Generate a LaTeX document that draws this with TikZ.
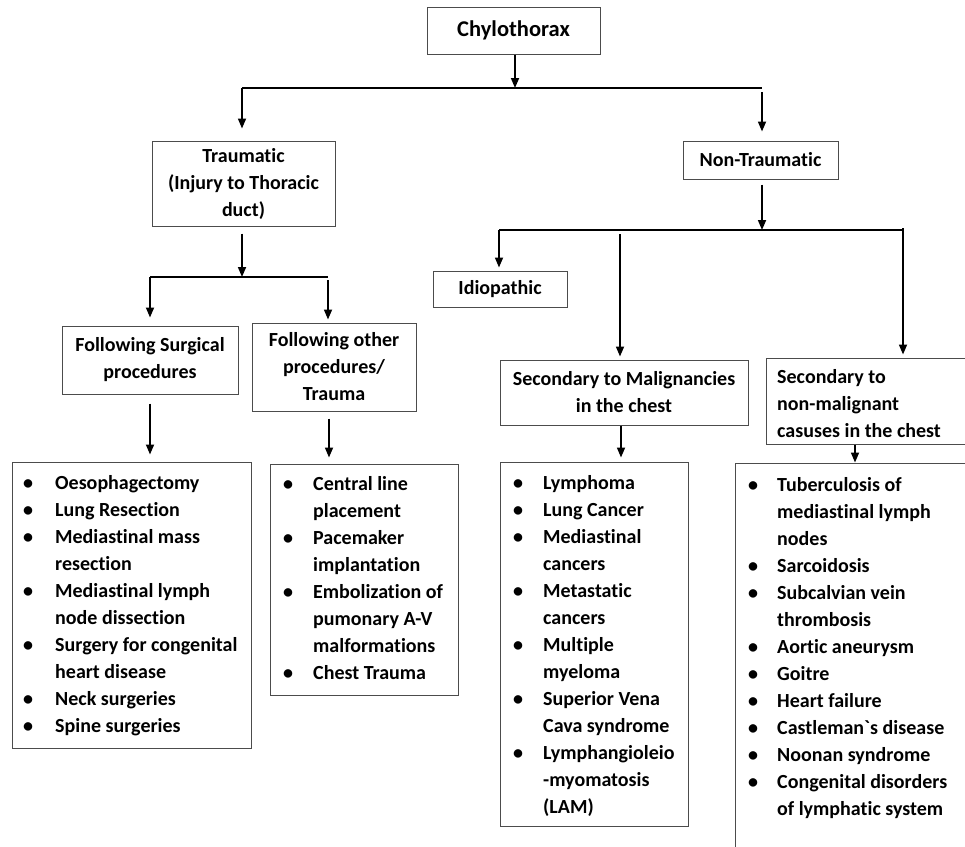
\documentclass[tikz,border=0pt]{standalone}
\usepackage{fontspec}
\newfontfamily\cf{Carlito}[Ligatures=NoCommon]
\usetikzlibrary{arrows.meta}
\begin{document}
\begin{tikzpicture}[x=1pt,y=-1pt,
  every node/.style={font=\cf\fontsize{20}{27}\selectfont\bfseries, text=black},
  hbox/.style={draw=black!70, line width=1pt, rectangle, inner sep=0pt, align=center},
  lbox/.style={draw=black!70, line width=1pt, rectangle, inner sep=0pt},
  conn/.style={line width=1.7pt, black},
  arr/.style={conn, -{Triangle[length=10pt,width=8pt]}},
  ltxt/.style={anchor=base west, inner sep=0pt}
]
\useasboundingbox (0,0) rectangle (965,846);
\clip (0,0) rectangle (965,846);
\fill[white] (0,0) rectangle (965,846);

% header boxes
\node[hbox, minimum width=173pt, minimum height=47pt, font=\cf\fontsize{22.5}{27}\selectfont\bfseries] (chylo) at (513.5,30.5) {Chylothorax};
\node[hbox, minimum width=183pt, minimum height=85pt] (trau) at (243.5,183.5) {Traumatic\\(Injury to Thoracic\\duct)};
\node[hbox, minimum width=155pt, minimum height=38pt] (nt) at (760.5,160) {Non-Traumatic};
\node[hbox, minimum width=176pt, minimum height=68pt] (surg) at (150,360) {Following Surgical\\procedures};
\node[hbox, minimum width=164pt, minimum height=88pt] (oth) at (334,367) {Following other\\procedures/\\Trauma};
\node[hbox, minimum width=134pt, minimum height=36pt] (idio) at (500,289) {Idiopathic};
\node[hbox, minimum width=248pt, minimum height=65pt] (mal) at (624,392.5) {Secondary to Malignancies\\in the chest};
\node[hbox, minimum width=209pt, minimum height=86pt] (nmal) at (870.5,401) {};
\node[inner sep=0pt, align=left, anchor=west] (nmalt) at (777,404) {Secondary to\\non-malignant\\casuses in the chest};

% list boxes
\node[lbox, minimum width=239pt, minimum height=286pt] (l1) at (131.5,605) {};
\node[lbox, minimum width=188pt, minimum height=231pt] (l2) at (364,579.5) {};
\node[lbox, minimum width=188pt, minimum height=364pt] (l3) at (594,644) {};
\node[lbox, minimum width=240pt, minimum height=407pt] (l4) at (855,666.5) {};

\node[ltxt] (t1) at (23,489) {\begin{tabular}[t]{@{}p{32pt}@{}l@{}}
\textbullet & Oesophagectomy\\
\textbullet & Lung Resection\\
\textbullet & Mediastinal mass\\
 & resection\\
\textbullet & Mediastinal lymph\\
 & node dissection\\
\textbullet & Surgery for congenital\\
 & heart disease\\
\textbullet & Neck surgeries\\
\textbullet & Spine surgeries
\end{tabular}};

\node[ltxt] (t2) at (283,490) {\begin{tabular}[t]{@{}p{30pt}@{}l@{}}
\textbullet & Central line\\
 & placement\\
\textbullet & Pacemaker\\
 & implantation\\
\textbullet & Embolization of\\
 & pumonary A-V\\
 & malformations\\
\textbullet & Chest Trauma
\end{tabular}};

\node[ltxt] (t3) at (513,489) {\begin{tabular}[t]{@{}p{30pt}@{}l@{}}
\textbullet & Lymphoma\\
\textbullet & Lung Cancer\\
\textbullet & Mediastinal\\
 & cancers\\
\textbullet & Metastatic\\
 & cancers\\
\textbullet & Multiple\\
 & myeloma\\
\textbullet & Superior Vena\\
 & Cava syndrome\\
\textbullet & Lymphangioleio\\
 & -myomatosis\\
 & (LAM)
\end{tabular}};

\node[ltxt] (t4) at (748,491) {\begin{tabular}[t]{@{}p{29pt}@{}l@{}}
\textbullet & Tuberculosis of\\
 & mediastinal lymph\\
 & nodes\\
\textbullet & Sarcoidosis\\
\textbullet & Subcalvian vein\\
 & thrombosis\\
\textbullet & Aortic aneurysm\\
\textbullet & Goitre\\
\textbullet & Heart failure\\
\textbullet & Castleman`s disease\\
\textbullet & Noonan syndrome\\
\textbullet & Congenital disorders\\
 & of lymphatic system
\end{tabular}};

% junction coordinates
\coordinate (j1) at (515,88);
\coordinate (b1l) at (242,88);
\coordinate (b1r) at (762,88);
\coordinate (j2) at (242,277);
\coordinate (b2l) at (150,277);
\coordinate (b2r) at (328,277);
\coordinate (j3) at (762,230);
\coordinate (b3l) at (499,230);
\coordinate (b3m) at (620,230);
\coordinate (b3r) at (903,230);
\coordinate (x2) at (329,0);
\coordinate (x3) at (621,0);
\coordinate (x4) at (855,0);

% connectors
\draw[arr] (chylo.south -| j1) -- (j1);
\draw[conn] (b1l) -- (b1r);
\draw[arr] (b1l) -- ([yshift=12pt]b1l |- trau.north);
\draw[arr] ([yshift=-4pt]b1r) -- ([yshift=9pt]b1r |- nt.north);

\draw[arr] ([yshift=-7pt]trau.south -| j2) -- (j2);
\draw[conn] (b2l) -- (b2r);
\draw[arr] (b2l) -- ([yshift=8pt]b2l |- surg.north);
\draw[arr] ([yshift=-3pt]b2r) -- ([yshift=3pt]b2r |- oth.north);
\draw[arr] ([yshift=-9pt]surg.south) -- ([yshift=7pt]l1.north -| surg.south);
\draw[arr] ([yshift=-7pt]oth.south -| x2) -- ([yshift=6pt]l2.north -| x2);

\draw[arr] ([yshift=-5pt]nt.south -| j3) -- (j3);
\draw[conn] (b3l) -- (b3r);
\draw[arr] ([yshift=2pt]b3r) -- ([yshift=3pt]b3r |- nmal.north);
\draw[arr] (b3l) -- ([yshift=3pt]b3l |- idio.north);
\draw[arr] ([yshift=-4pt]b3m) -- ([yshift=3pt]b3m |- mal.north);
\draw[arr] (mal.south -| x3) -- ([yshift=4pt]l3.north -| x3);
\draw[arr] (nmal.south -| x4) -- (l4.north -| x4);
\end{tikzpicture}
\end{document}
